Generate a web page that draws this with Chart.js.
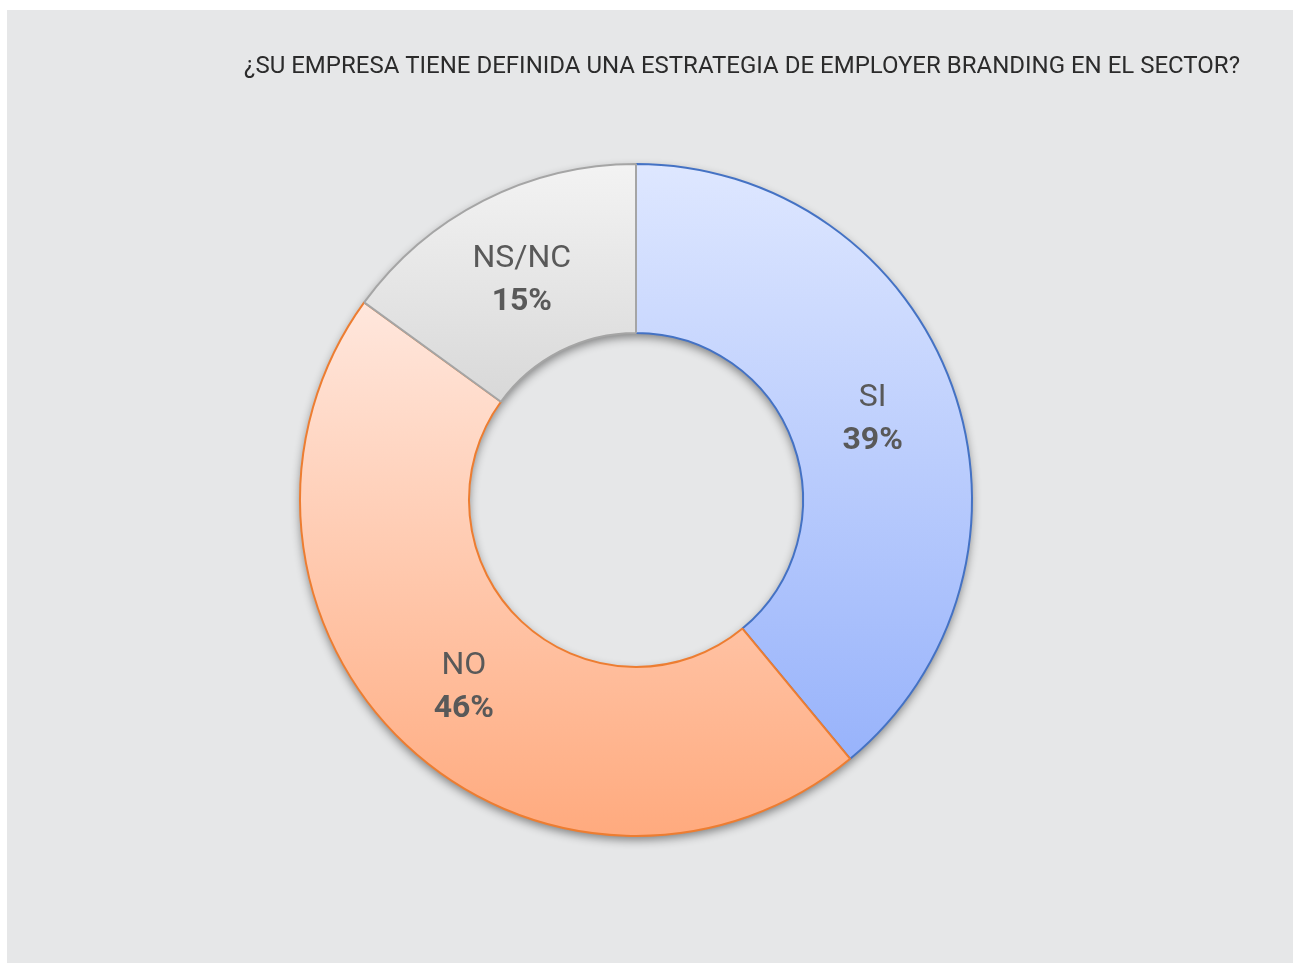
<!DOCTYPE html>
<html>
<head>
<meta charset="utf-8">
<script src="https://cdn.jsdelivr.net/npm/chart.js@4"></script>
<style>
    html, body { margin: 0; padding: 0; background: #ffffff; }
    .panel {
        position: absolute;
        left: 7px;
        top: 10px;
        width: 1286px;
        height: 953px;
        background: #e6e7e8;
    }
</style>
</head>
<body>
<div class="panel">
    <canvas id="donut" width="1286" height="953"></canvas>
</div>
<script>
var categories = ["SI", "NO", "NS/NC"];
var shares = [39, 46, 15];
var borderColors = ["#4472c4", "#ed7d31", "#a5a5a5"];
var topColors = ["#dee7ff", "#ffe7dd", "#f3f3f3"];
var bottomColors = ["#98b3fb", "#ffaa7e", "#d8d8d8"];

var OUTER = 336, INNER = 167;

// vertical gradient over the bounding box of each sector
function sectorGradient(context) {
    var i = context.dataIndex;
    var chart = context.chart;
    var area = chart.chartArea;
    if (!area) {
        return bottomColors[i];
    }
    var cy = (area.top + area.bottom) / 2;
    var total = 0, before = 0;
    for (var k = 0; k < shares.length; k++) {
        if (k < i) before += shares[k];
        total += shares[k];
    }
    var a0 = -Math.PI / 2 + 2 * Math.PI * before / total;
    var a1 = a0 + 2 * Math.PI * shares[i] / total;
    var ys = [];
    [OUTER, INNER].forEach(function(r) {
        ys.push(cy + r * Math.sin(a0));
        ys.push(cy + r * Math.sin(a1));
    });
    if (a0 <= Math.PI / 2 && a1 >= Math.PI / 2) ys.push(cy + OUTER);
    if (a0 <= -Math.PI / 2 + 1e-6 || a1 >= 1.5 * Math.PI - 1e-6) ys.push(cy - OUTER);
    var g = chart.ctx.createLinearGradient(0, Math.min.apply(null, ys), 0, Math.max.apply(null, ys));
    g.addColorStop(0, topColors[i]);
    g.addColorStop(1, bottomColors[i]);
    return g;
}

// soft drop shadow under the ring
var ringShadow = {
    id: 'ringShadow',
    beforeDatasetsDraw: function(chart) {
        var arc = chart.getDatasetMeta(0).data[0];
        var ctx = chart.ctx;
        ctx.save();
        ctx.shadowColor = 'rgba(0,0,0,0.45)';
        ctx.shadowBlur = 10;
        ctx.shadowOffsetY = 4;
        ctx.fillStyle = '#d0d0d0';
        ctx.beginPath();
        ctx.arc(arc.x, arc.y, arc.outerRadius, 0, Math.PI * 2);
        ctx.arc(arc.x, arc.y, arc.innerRadius, 0, Math.PI * 2, true);
        ctx.fill();
        ctx.restore();
    }
};

// category name and percentage in the middle of each sector
var sectorLabels = {
    id: 'sectorLabels',
    afterDatasetsDraw: function(chart) {
        var ctx = chart.ctx;
        var meta = chart.getDatasetMeta(0);
        ctx.save();
        ctx.fillStyle = '#595959';
        ctx.textAlign = 'center';
        ctx.textBaseline = 'middle';
        meta.data.forEach(function(el, i) {
            var p = el.getCenterPoint();
            ctx.font = '400 32px Roboto';
            ctx.fillText(categories[i], p.x, p.y - 17);
            ctx.font = '700 32px Roboto';
            ctx.fillText(shares[i] + '%', p.x, p.y + 26);
        });
        ctx.restore();
    }
};

new Chart(document.getElementById('donut'), {
    type: 'doughnut',
    data: {
        labels: categories,
        datasets: [{
            data: shares,
            backgroundColor: sectorGradient,
            borderColor: borderColors,
            borderWidth: 2
        }]
    },
    options: {
        responsive: false,
        animation: false,
        radius: OUTER,
        cutout: (INNER / OUTER * 100) + '%',
        layout: {
            padding: { left: 25, right: 53, top: 0, bottom: 53 }
        },
        plugins: {
            legend: { display: false },
            tooltip: { enabled: false },
            title: {
                display: true,
                text: '¿SU EMPRESA TIENE DEFINIDA UNA ESTRATEGIA DE EMPLOYER BRANDING EN EL SECTOR?',
                align: 'end',
                color: '#2b2b2b',
                font: { family: 'Roboto', size: 24, weight: '400' },
                padding: { top: 43, bottom: 8 }
            }
        }
    },
    plugins: [ringShadow, sectorLabels]
});
</script>
</body>
</html>
